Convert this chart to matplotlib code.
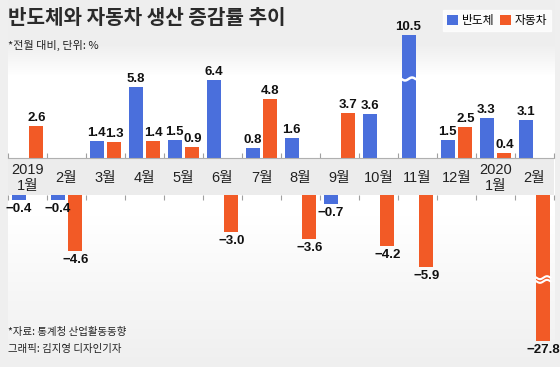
import numpy as np
import matplotlib
matplotlib.use('Agg')
import matplotlib.pyplot as plt
from matplotlib.patches import Rectangle

plt.rcParams['font.family'] = ['Noto Sans CJK KR', 'DejaVu Sans']

# 데이터 (전월 대비, %)
months = ['2019\n1월', '2월', '3월', '4월', '5월', '6월', '7월', '8월',
          '9월', '10월', '11월', '12월', '2020\n1월', '2월']
semi = [-0.4, -0.4, 1.4, 5.8, 1.5, 6.4, 0.8, 1.6, -0.7, 3.6, 10.5, 1.5, 3.3, 3.1]
auto = [2.6, -4.6, 1.3, 1.4, 0.9, -3.0, 4.8, -3.6, 3.7, -4.2, -5.9, 2.5, 0.4, -27.8]

BLUE = '#4a6fdc'
ORANGE = '#f25a26'
W, H = 560, 367
PX = 12.25          # 1% 당 픽셀
BAND_TOP, BAND_BOT = 158, 195
TOP_CAP, BOT_CAP = 10.0, -11.9   # 물결 생략 표시 높이

fig = plt.figure(figsize=(W / 100, H / 100), dpi=100, facecolor='#efefef')

# 배경 그라데이션 패널
bg = fig.add_axes([0, 0, 1, 1], zorder=-5)
bg.set_xlim(0, W)
bg.set_ylim(H, 0)
bg.axis('off')
yy = np.arange(H)
t = np.interp(yy, [45, 75, 215, 367], [1, 0, 0, 1])
c0 = np.array([1.0, 1.0, 1.0])
c1 = np.array([0.937, 0.937, 0.937])
grad = (c0[None, :] * (1 - t[:, None]) + c1[None, :] * t[:, None])[:, None, :]
bg.imshow(grad, extent=[8, 555, H, 0], aspect='auto')
bg.add_patch(Rectangle((8, BAND_TOP), 546, BAND_BOT - BAND_TOP, color='#ececec', lw=0))

x = np.arange(len(months))
off, bw = 0.23, 0.36
left, width = 8 / W, 546 / W

ax_t = fig.add_axes([left, 1 - BAND_TOP / H, width, (BAND_TOP - 20) / H])
ax_b = fig.add_axes([left, 1 - 360 / H, width, (360 - BAND_BOT) / H])
ax_t.set_ylim(0, (BAND_TOP - 20) / PX)
ax_b.set_ylim(-(360 - BAND_BOT) / PX, 0)

semi_a = np.array(semi)
auto_a = np.array(auto)

for ax in (ax_t, ax_b):
    ax.set_xlim(-0.5, len(months) - 0.5)
    ax.patch.set_alpha(0)
    for s in ax.spines.values():
        s.set_visible(False)
    ax.set_yticks([])
    ax.set_xticks([])

ax_t.bar(x - off, np.clip(semi_a, 0, TOP_CAP), bw, color=BLUE, label='반도체')
ax_t.bar(x + off, np.clip(auto_a, 0, TOP_CAP), bw, color=ORANGE, label='자동차')
ax_b.bar(x - off, np.clip(semi_a, BOT_CAP, 0), bw, color=BLUE)
ax_b.bar(x + off, np.clip(auto_a, BOT_CAP, 0), bw, color=ORANGE)

# 축선 & 경계 눈금
ax_t.spines['bottom'].set_visible(True)
ax_t.spines['bottom'].set_color('#b0b0b0')
bounds = np.arange(len(months) + 1) - 0.5
ax_t.set_xticks(bounds)
ax_t.tick_params(axis='x', direction='in', length=3.6, color='#a0a0a0', labelbottom=False)
ax_b.set_xticks(bounds)
ax_b.tick_params(axis='x', top=True, bottom=False, direction='in', length=3.6,
                 color='#a0a0a0', labelbottom=False)

# 값 레이블
num_font = dict(family=['Liberation Sans Narrow', 'DejaVu Sans Condensed', 'Liberation Sans'],
                weight='bold', fontsize=9.5, color='#111111')
for vals, dx in ((semi, -off), (auto, off)):
    for i, v in enumerate(vals):
        if v > 0:
            ax_t.annotate(f'{v:.1f}', (i + dx, min(v, TOP_CAP)), xytext=(0, 2),
                          textcoords='offset pixels', ha='center', va='bottom',
                          annotation_clip=False, **num_font)
        else:
            ax_b.annotate(f'{v:.1f}'.replace('-', '−'), (i + dx, max(v, BOT_CAP)),
                          xytext=(0, -3), textcoords='offset pixels', ha='center',
                          va='top', annotation_clip=False, **num_font)

# 물결 생략 표시
wx = np.linspace(-bw / 2 - 0.02, bw / 2 + 0.02, 40)
wy = 0.12 * np.sin(wx / (bw / 2) * np.pi)
ax_t.plot(10 - off + wx, 6.45 + wy, color='white', lw=1.8, solid_capstyle='butt')
ax_b.plot(13 + off + wx, -6.75 + wy, color='white', lw=1.5, solid_capstyle='butt')
ax_b.plot(13 + off + wx, -7.05 + wy, color='white', lw=1.5, solid_capstyle='butt')

# 월 레이블
for i, m in enumerate(months):
    ax_t.annotate(m, (i, 0), xycoords=('data', 'axes fraction'), xytext=(0, -20),
                  textcoords='offset pixels', ha='center', va='center',
                  fontsize=10.5, color='#222222', linespacing=1.1,
                  family=['Liberation Sans', 'Noto Sans CJK KR'])

# 제목 등 텍스트
fig.text(8 / W, 1 - 18 / H, '반도체와 자동차 생산 증감률 추이', fontsize=14.5,
         weight='bold', color='#2a2a2a', va='center')
fig.text(8 / W, 1 - 45 / H, '*전월 대비, 단위: %', fontsize=8, color='#222222', va='center')
fig.text(8 / W, 1 - 332 / H, '*자료: 통계청 산업활동동향', fontsize=7.5, color='#222222', va='center')
fig.text(8 / W, 1 - 349 / H, '그래픽: 김지영 디자인기자', fontsize=7.5, color='#222222', va='center')

# 범례
leg = ax_t.legend(loc='upper right', bbox_to_anchor=(551 / W, 1 - 10 / H),
                  bbox_transform=fig.transFigure, ncol=2, frameon=True, fancybox=False,
                  handlelength=0.9, handleheight=0.9, handletextpad=0.3,
                  columnspacing=0.5, borderpad=0.35, fontsize=8.5, borderaxespad=0)
leg.get_frame().set_facecolor('white')
leg.get_frame().set_edgecolor('white')

plt.savefig('out.png', dpi=100, facecolor=fig.get_facecolor())
